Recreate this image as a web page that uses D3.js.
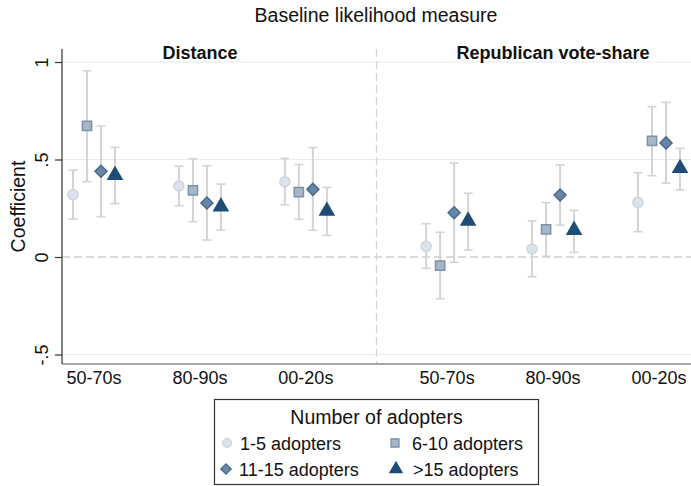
<!DOCTYPE html>
<html>
<head>
<meta charset="utf-8">
<script src="https://cdn.jsdelivr.net/npm/d3@7"></script>
<style>
  html, body { margin: 0; padding: 0; background: #fff; }
  svg { display: block; font-family: "Liberation Sans", Arial, Helvetica, sans-serif; }
</style>
</head>
<body>
<svg id="chart" width="691" height="486"></svg>
<script>
// ---------------- DATA ----------------
const panels = ["Distance", "Republican vote-share"];
const categories = ["50-70s", "80-90s", "00-20s"];
const seriesNames = ["1-5 adopters", "6-10 adopters", "11-15 adopters", ">15 adopters"];
const yTicks = [-0.5, 0, 0.5, 1];
const yTickLabels = ["-.5", "0", ".5", "1"];

// each array: Distance (50-70s, 80-90s, 00-20s), Republican vote-share (50-70s, 80-90s, 00-20s)
const coef1to5   = [0.320, 0.364, 0.386,  0.055,  0.041, 0.280];
const lo1to5     = [0.195, 0.263, 0.268, -0.058, -0.101, 0.130];
const hi1to5     = [0.445, 0.465, 0.506,  0.171,  0.185, 0.432];

const coef6to10  = [0.672, 0.342, 0.333, -0.044, 0.142, 0.595];
const lo6to10    = [0.386, 0.181, 0.193, -0.214, 0.004, 0.417];
const hi6to10    = [0.955, 0.504, 0.474,  0.127, 0.279, 0.771];

const coef11to15 = [0.440, 0.277, 0.347,  0.227, 0.318, 0.585];
const lo11to15   = [0.207, 0.087, 0.137, -0.027, 0.163, 0.379];
const hi11to15   = [0.672, 0.468, 0.561,  0.482, 0.472, 0.793];

const coefOver15 = [0.420, 0.258, 0.236, 0.185, 0.138, 0.455];
const loOver15   = [0.274, 0.138, 0.111, 0.036, 0.024, 0.344];
const hiOver15   = [0.562, 0.374, 0.357, 0.327, 0.239, 0.557];

const seriesCoef = [coef1to5, coef6to10, coef11to15, coefOver15];
const seriesLo   = [lo1to5, lo6to10, lo11to15, loOver15];
const seriesHi   = [hi1to5, hi6to10, hi11to15, hiOver15];

// ---------------- STYLE ----------------
const markerStyle = [
  { shape: d3.symbolCircle,   size: 80, rot: 0,  fill: "#dce3ea", stroke: "#ccd5df" },
  { shape: d3.symbolSquare,   size: 85, rot: 0,  fill: "#a8b7c7", stroke: "#7a92aa" },
  { shape: d3.symbolSquare,   size: 72, rot: 45, fill: "#6a86a4", stroke: "#476a8f" },
  { shape: d3.symbolTriangle, size: 85, rot: 0,  fill: "#1e4d78", stroke: "#1e4d78" }
];

const svg = d3.select("#chart");
const pLeft = 62, pRight = 691, pTop = 49, pBottom = 364;

// x: category index with a gap between panels
const panelShift = 3 + 1 / 3;
const x = d3.scaleLinear().domain([-0.302, 2 + panelShift + 0.302]).range([pLeft, pRight]);
const offset = d3.scalePoint().domain(seriesNames).range([-21, 21]);
const y = d3.scaleLinear().domain([-0.5487, 1.0667]).range([pBottom, pTop]);

const pos = (p, c) => x(c + p * panelShift);

// gridlines
const g = svg.append("g");
g.selectAll("line.grid").data(yTicks.filter(t => t !== 0)).join("line")
  .attr("x1", pLeft).attr("x2", pRight)
  .attr("y1", d => y(d)).attr("y2", d => y(d))
  .attr("stroke", "#e4ecf0").attr("stroke-width", 1.2);
g.append("line")
  .attr("x1", pLeft).attr("x2", pRight).attr("y1", y(0)).attr("y2", y(0))
  .attr("stroke", "#d0d0d0").attr("stroke-width", 1.3).attr("stroke-dasharray", "8,4");

// panel divider
const dividerX = (pos(0, 2) + pos(1, 0)) / 2;
g.append("line")
  .attr("x1", dividerX).attr("x2", dividerX).attr("y1", pTop).attr("y2", pBottom)
  .attr("stroke", "#d6d6d6").attr("stroke-width", 1.3).attr("stroke-dasharray", "8,4");

// axes
const yAxis = d3.axisLeft(y).tickValues(yTicks).tickFormat((d, i) => yTickLabels[i]).tickSize(7).tickPadding(4);
const ya = svg.append("g").attr("transform", `translate(${pLeft},0)`).call(yAxis);
ya.attr("font-family", null).attr("font-size", null);
ya.select(".domain").attr("stroke", "#333").attr("stroke-width", 1.2).attr("d", `M0,${pTop}V${pBottom}`);
ya.selectAll(".tick line").attr("stroke", "#333").attr("stroke-width", 1.2);
ya.selectAll(".tick text")
  .attr("font-size", 18).attr("fill", "#111")
  .attr("x", null).attr("dy", null)
  .attr("text-anchor", "middle")
  .attr("transform", "translate(-14,0) rotate(-90)");

// bottom axis line
svg.append("line").attr("x1", pLeft).attr("x2", pRight).attr("y1", pBottom).attr("y2", pBottom)
  .attr("stroke", "#555").attr("stroke-width", 1.2);

// x labels
panels.forEach((p, pi) => {
  categories.forEach((c, ci) => {
    svg.append("text")
      .attr("x", pos(pi, ci)).attr("y", 384)
      .attr("text-anchor", "middle").attr("font-size", 18).attr("fill", "#111")
      .text(c);
  });
  svg.append("text")
    .attr("x", pos(pi, 1)).attr("y", 59)
    .attr("text-anchor", "middle").attr("font-size", 18).attr("font-weight", "bold").attr("fill", "#111")
    .text(p);
});

// error bars & markers
seriesNames.forEach((s, si) => {
  const data = seriesCoef[si].map((v, k) => ({
    p: Math.floor(k / 3), c: k % 3, v, lo: seriesLo[si][k], hi: seriesHi[si][k]
  }));
  const gs = svg.append("g");
  const cx = d => pos(d.p, d.c) + offset(s);
  gs.selectAll("line.bar").data(data).join("line")
    .attr("x1", cx).attr("x2", cx).attr("y1", d => y(d.lo)).attr("y2", d => y(d.hi))
    .attr("stroke", "#d4d4d4").attr("stroke-width", 2);
  ["lo", "hi"].forEach(k => {
    gs.selectAll("line.cap" + k).data(data).join("line")
      .attr("x1", d => cx(d) - 4.5).attr("x2", d => cx(d) + 4.5)
      .attr("y1", d => y(d[k])).attr("y2", d => y(d[k]))
      .attr("stroke", "#d4d4d4").attr("stroke-width", 1.6);
  });
  const st = markerStyle[si];
  gs.selectAll("path.m").data(data).join("path")
    .attr("d", d3.symbol().type(st.shape).size(st.size))
    .attr("transform", d => `translate(${cx(d)},${y(d.v)}) rotate(${st.rot})`)
    .attr("fill", st.fill).attr("stroke", st.stroke).attr("stroke-width", 1.5);
});

// titles
svg.append("text").attr("x", 376).attr("y", 22).attr("text-anchor", "middle")
  .attr("font-size", 19.5).attr("fill", "#111").text("Baseline likelihood measure");
svg.append("text").attr("transform", `translate(25,${(pTop + pBottom) / 2}) rotate(-90)`)
  .attr("text-anchor", "middle").attr("font-size", 19.5).attr("fill", "#111").text("Coefficient");

// legend
const lg = svg.append("g");
lg.append("rect").attr("x", 214.5).attr("y", 399.5).attr("width", 324).attr("height", 85)
  .attr("fill", "#fff").attr("stroke", "#333").attr("stroke-width", 1.2);
lg.append("text").attr("x", 376.5).attr("y", 424).attr("text-anchor", "middle")
  .attr("font-size", 19.5).attr("fill", "#111").text("Number of adopters");
const legPos = [[227, 443], [395, 443], [226, 469], [396, 469]];
seriesNames.forEach((s, si) => {
  const st = markerStyle[si];
  const [lx, ly] = legPos[si];
  lg.append("path").attr("d", d3.symbol().type(st.shape).size(st.size * 0.75))
    .attr("transform", `translate(${lx},${ly}) rotate(${st.rot})`)
    .attr("fill", st.fill).attr("stroke", st.stroke).attr("stroke-width", 1.3);
  lg.append("text").attr("x", lx + (si % 2 === 0 ? 13 : 17)).attr("y", ly + 6.5)
    .attr("font-size", 18).attr("fill", "#111").text(s);
});
</script>
</body>
</html>
